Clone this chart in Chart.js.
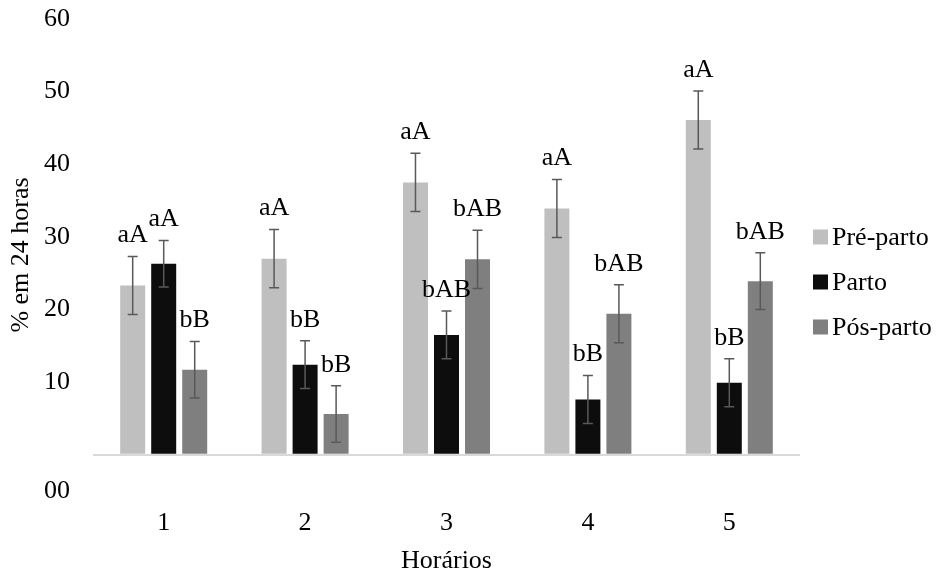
<!DOCTYPE html>
<html>
<head>
<meta charset="utf-8">
<script src="https://cdn.jsdelivr.net/npm/chart.js@4/dist/chart.umd.min.js"></script>
<style>
    html, body { margin: 0; padding: 0; background: #fff; }
    #wrap { width: 940px; height: 579px; }
</style>
</head>
<body>
<div id="wrap"><canvas id="chart"></canvas></div>
<script>
// Data
const horarios = ['1', '2', '3', '4', '5'];
const preParto = [23.3, 27.0, 37.5, 33.9, 46.1];
const parto = [26.3, 12.4, 16.5, 7.6, 9.9];
const posParto = [11.7, 5.6, 26.9, 19.4, 23.9];
const erroPre = [4.0, 4.0, 4.0, 4.0, 4.0];
const erroParto = [3.2, 3.3, 3.3, 3.3, 3.3];
const erroPos = [3.9, 3.9, 4.0, 4.0, 3.9];
const letrasPre = ['aA', 'aA', 'aA', 'aA', 'aA'];
const letrasParto = ['aA', 'bB', 'bAB', 'bB', 'bB'];
const letrasPos = ['bB', 'bB', 'bAB', 'bAB', 'bAB'];
const yTicks = [-5, 0, 10, 20, 30, 40, 50, 60];
const yTickLabels = ['00', '', '10', '20', '30', '40', '50', '60'];

const FONT = '"Liberation Serif", "Times New Roman", serif';
const SIZE = 26;

// Error bars + letters above each bar
const errorBars = {
    id: 'errorBars',
    afterDatasetsDraw(chart) {
        const ctx = chart.ctx;
        const y = chart.scales.y;
        chart.data.datasets.forEach((ds, i) => {
            const meta = chart.getDatasetMeta(i);
            meta.data.forEach((bar, j) => {
                const v = ds.data[j];
                const e = ds.errors[j];
                const top = y.getPixelForValue(v + e);
                const bottom = y.getPixelForValue(v - e);
                ctx.save();
                ctx.strokeStyle = '#595959';
                ctx.lineWidth = 1.5;
                ctx.beginPath();
                ctx.moveTo(bar.x, top);
                ctx.lineTo(bar.x, bottom);
                ctx.moveTo(bar.x - 5, top);
                ctx.lineTo(bar.x + 5, top);
                ctx.moveTo(bar.x - 5, bottom);
                ctx.lineTo(bar.x + 5, bottom);
                ctx.stroke();
                ctx.fillStyle = '#000';
                ctx.font = SIZE + 'px ' + FONT;
                ctx.textAlign = 'center';
                ctx.textBaseline = 'bottom';
                ctx.fillText(ds.letters[j], bar.x, top - 8);
                ctx.restore();
            });
        });
    }
};

// Legend on the right, drawn like the Excel one (small square, tight gap)
const sideLegend = {
    id: 'sideLegend',
    afterDraw(chart) {
        const ctx = chart.ctx;
        const x = chart.chartArea.right + 13;
        const y0 = 237;
        ctx.save();
        ctx.font = SIZE + 'px ' + FONT;
        ctx.textBaseline = 'middle';
        ctx.textAlign = 'left';
        chart.data.datasets.forEach((ds, i) => {
            const y = y0 + i * 45;
            ctx.fillStyle = ds.backgroundColor;
            ctx.fillRect(x, y - 7.5, 15, 15);
            ctx.fillStyle = '#000';
            ctx.fillText(ds.label, x + 19, y + 1);
        });
        ctx.restore();
    }
};

new Chart(document.getElementById('chart'), {
    type: 'bar',
    data: {
        labels: horarios,
        datasets: [{
            label: 'Pré-parto',
            data: preParto,
            errors: erroPre,
            letters: letrasPre,
            backgroundColor: '#bfbfbf'
        }, {
            label: 'Parto',
            data: parto,
            errors: erroParto,
            letters: letrasParto,
            backgroundColor: '#0d0d0d'
        }, {
            label: 'Pós-parto',
            data: posParto,
            errors: erroPos,
            letters: letrasPos,
            backgroundColor: '#7f7f7f'
        }]
    },
    options: {
        responsive: true,
        maintainAspectRatio: false,
        animation: false,
        categoryPercentage: 0.658,
        barPercentage: 0.806,
        layout: { padding: { right: 140 } },
        plugins: {
            legend: { display: false },
            tooltip: { enabled: false }
        },
        scales: {
            x: {
                grid: { display: false },
                border: { display: false },
                ticks: {
                    color: '#000',
                    padding: 9,
                    font: { family: FONT, size: SIZE }
                },
                title: {
                    display: true,
                    text: 'Horários',
                    color: '#000',
                    padding: { top: 0, bottom: 2 },
                    font: { family: FONT, size: SIZE }
                },
                afterFit(scale) { scale.height = 88; }
            },
            y: {
                min: -5,
                max: 60,
                afterBuildTicks(scale) {
                    scale.ticks = yTicks.map(v => ({ value: v }));
                },
                grid: {
                    drawTicks: false,
                    color: ctx => ctx.tick && ctx.tick.value === 0 ? '#d9d9d9' : 'rgba(0,0,0,0)',
                    lineWidth: 2
                },
                border: { display: false },
                ticks: {
                    autoSkip: false,
                    color: '#000',
                    padding: 23,
                    font: { family: FONT, size: SIZE },
                    callback: (value, index) => yTickLabels[index]
                },
                title: {
                    display: true,
                    text: '% em 24 horas',
                    color: '#000',
                    padding: { top: 6, bottom: 0 },
                    font: { family: FONT, size: SIZE }
                },
                afterFit(scale) {
                    scale.width = 93;
                    scale.paddingTop = 19;
                    scale.paddingBottom = 0;
                }
            }
        }
    },
    plugins: [errorBars, sideLegend]
});
</script>
</body>
</html>
